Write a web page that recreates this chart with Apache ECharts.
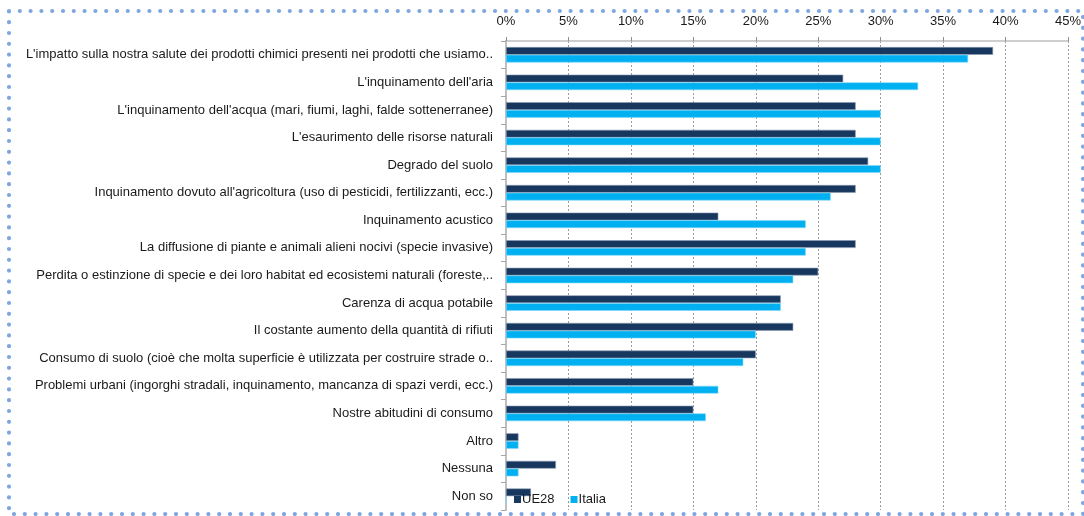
<!DOCTYPE html>
<html>
<head>
<meta charset="utf-8">
<script src="https://cdn.jsdelivr.net/npm/echarts@6/dist/echarts.min.js"></script>
<style>
  html, body { margin: 0; padding: 0; background: #fff; }
  #chart { width: 1084px; height: 516px; }
</style>
</head>
<body>
<div id="chart"></div>
<script>
// Environmental issues of greatest concern (% of respondents)
const categories = [
  "L'impatto sulla nostra salute dei prodotti chimici presenti nei prodotti che usiamo..",
  "L'inquinamento dell'aria",
  "L'inquinamento dell'acqua (mari, fiumi, laghi, falde sottenerranee)",
  "L'esaurimento delle risorse naturali",
  "Degrado del suolo",
  "Inquinamento dovuto all'agricoltura (uso di pesticidi, fertilizzanti, ecc.)",
  "Inquinamento acustico",
  "La diffusione di piante e animali alieni nocivi (specie invasive)",
  "Perdita o estinzione di specie e dei loro habitat ed ecosistemi naturali (foreste,..",
  "Carenza di acqua potabile",
  "Il costante aumento della quantit\u00e0 di rifiuti",
  "Consumo di suolo (cio\u00e8 che molta superficie \u00e8 utilizzata per costruire strade o..",
  "Problemi urbani (ingorghi stradali, inquinamento, mancanza di spazi verdi, ecc.)",
  "Nostre abitudini di consumo",
  "Altro",
  "Nessuna",
  "Non so"
];
const ue28   = [39, 27, 28, 28, 29, 28, 17, 28, 25, 22, 23, 20, 15, 15, 1, 4, 2];
const italia = [37, 33, 30, 30, 30, 26, 24, 24, 23, 22, 20, 19, 17, 16, 1, 1, 0];
const axisMax = 45;
const axisStep = 5;

const font = "'Liberation Sans', Arial, sans-serif";
const chart = echarts.init(document.getElementById('chart'), null, { renderer: 'canvas' });

chart.setOption({
  animation: false,
  backgroundColor: '#ffffff',
  textStyle: { fontFamily: font },
  grid: { left: 506, right: 16, top: 41, bottom: 6, containLabel: false },
  legend: {
    data: ['UE28', 'Italia'],
    left: 509, top: 488,
    icon: 'rect', itemWidth: 7, itemHeight: 7, itemGap: 16,
    itemStyle: { borderWidth: 0 },
    textStyle: { fontFamily: font, fontSize: 13, color: '#1a1a1a', padding: [0, 0, 0, -4] }
  },
  xAxis: {
    type: 'value', position: 'top', min: 0, max: axisMax, interval: axisStep,
    axisLine: { show: true, lineStyle: { color: '#bfbfbf', width: 1.5 } },
    axisTick: { show: true, length: 4, lineStyle: { color: '#8c8c8c' } },
    axisLabel: { formatter: '{value}%', fontSize: 13, color: '#1a1a1a', margin: 13, fontFamily: font },
    splitLine: { show: true, lineStyle: { color: '#9a9a9a', type: [2, 2], width: 1 } }
  },
  yAxis: {
    type: 'category', inverse: true, data: categories,
    axisLine: { show: true, lineStyle: { color: '#bfbfbf', width: 2 } },
    axisTick: { show: true, length: 5, alignWithLabel: false, lineStyle: { color: '#a6a6a6' } },
    axisLabel: { fontSize: 13, color: '#1a1a1a', margin: 13, fontFamily: font }
  },
  series: [
    {
      name: 'UE28', type: 'bar', data: ue28,
      barGap: '0%', barCategoryGap: '44%',
      itemStyle: { color: '#17375e', borderColor: '#8a9bb3', borderWidth: 0.6 }
    },
    {
      name: 'Italia', type: 'bar', data: italia,
      barGap: '0%', barCategoryGap: '44%',
      itemStyle: { color: '#00b0f0', borderColor: '#7fd6f7', borderWidth: 0.6 }
    }
  ],
  graphic: [
    {
      // dotted frame round the whole chart
      type: 'rect', silent: true, z: 100,
      shape: { x: 9, y: 11, width: 1074, height: 503 },
      style: { fill: 'none', stroke: '#7ea6e0', lineWidth: 4.2, lineCap: 'round', lineDash: [0, 10.8] }
    }
  ]
});
</script>
</body>
</html>
